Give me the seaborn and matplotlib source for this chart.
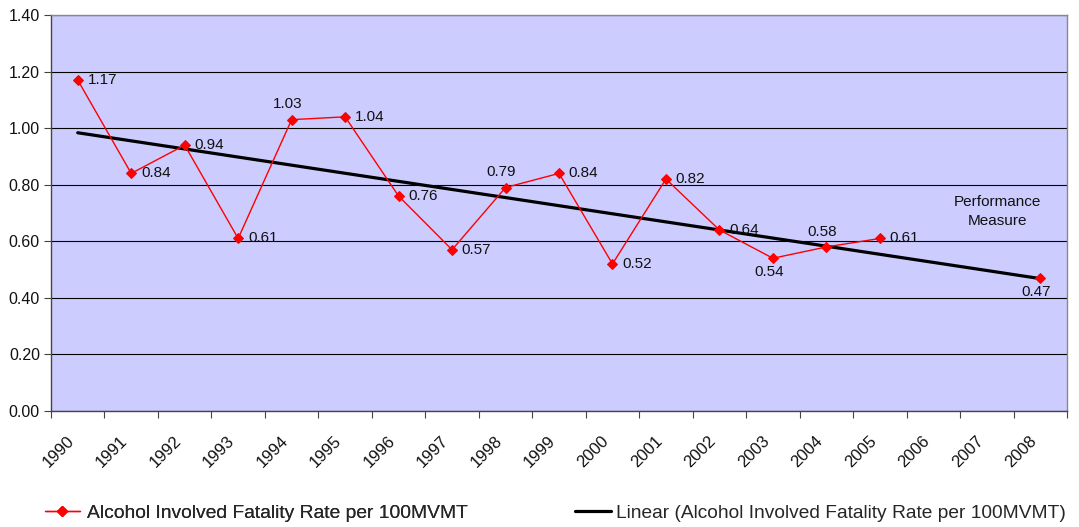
import matplotlib
matplotlib.use("Agg")
import matplotlib.pyplot as plt
from matplotlib.lines import Line2D
from matplotlib.ticker import FixedLocator, MultipleLocator
import numpy as np
import pandas as pd
import seaborn as sns

YEARS = [str(y) for y in range(1990, 2009)]
RATES = [1.17, 0.84, 0.94, 0.61, 1.03, 1.04, 0.76, 0.57, 0.79, 0.84,
         0.52, 0.82, 0.64, 0.54, 0.58, 0.61, None, None, 0.47]
# where each value label sits relative to its point
LABEL_POS = ["r", "r", "r", "r", "a", "r", "r", "r", "a", "r",
             "r", "r", "r", "b", "a", "r", None, None, "b"]

SERIES = "Alcohol Involved Fatality Rate per 100MVMT"
TREND = "Linear (Alcohol Involved Fatality Rate per 100MVMT)"

sns.set_theme(style="white")
plt.rcParams["font.family"] = ["Liberation Sans", "DejaVu Sans"]

df = pd.DataFrame({"Year": YEARS, "Rate": RATES, "pos": LABEL_POS})
df["x"] = np.arange(len(df))
df = df.dropna(subset=["Rate"]).copy()
# break the line where years are missing
df["segment"] = (df["x"].diff().fillna(1) > 1).cumsum()

fig = plt.figure(figsize=(10.79, 5.27), dpi=100)
ax = fig.add_axes([51 / 1079, 116 / 527, 1016 / 1079, 396 / 527])
ax.set_facecolor("#CCCCFF")

sns.lineplot(data=df, x="x", y="Rate", units="segment", estimator=None,
             color="red", linewidth=1.0, marker="D", markersize=5.5,
             markeredgecolor="red", ax=ax, legend=False, zorder=3)

sns.regplot(data=df, x="x", y="Rate", scatter=False, ci=None, truncate=True,
            line_kws={"color": "black", "linewidth": 2.3, "zorder": 2}, ax=ax)

label_style = dict(textcoords="offset points", fontsize=11, color="#111111")
for x, v, pos in zip(df["x"], df["Rate"], df["pos"]):
    txt = f"{v:.2f}"
    if pos == "r":
        ax.annotate(txt, (x, v), xytext=(7, 0), ha="left", va="center",
                    **label_style)
    elif pos == "a":
        ax.annotate(txt, (x, v), xytext=(-3, 6), ha="center", va="bottom",
                    **label_style)
    else:
        ax.annotate(txt, (x, v), xytext=(-3, -5), ha="center", va="top",
                    **label_style)

ax.text(17.2, 0.705, "Performance\nMeasure", ha="center", va="center",
        fontsize=11, color="#111111", linespacing=1.4)

ax.set_xlim(-0.5, len(YEARS) - 0.5)
ax.set_ylim(0, 1.4)
ax.yaxis.set_major_locator(MultipleLocator(0.2))
ax.yaxis.set_major_formatter(plt.FuncFormatter(lambda v, _: f"{v:.2f}"))
ax.grid(axis="y", color="black", linewidth=0.8)
ax.set_axisbelow(True)

# Excel-style rotated labels sit a little left of the category centre
ax.xaxis.set_major_locator(FixedLocator(np.arange(len(YEARS)) - 0.21))
ax.set_xticklabels(YEARS, rotation=45, ha="right", va="top",
                   rotation_mode="anchor")
ax.xaxis.set_minor_locator(FixedLocator(np.arange(len(YEARS) + 1) - 0.5))
ax.tick_params(axis="x", which="major", length=0, pad=16, labelsize=12,
               labelcolor="#111111")
ax.tick_params(axis="x", which="minor", length=5, width=0.8, color="#444444",
               bottom=True)
ax.tick_params(axis="y", length=5, width=0.8, color="#444444", left=True,
               labelsize=11.5, labelcolor="#111111", pad=3)
ax.set_xlabel("")
ax.set_ylabel("")

for side in ["left", "bottom"]:
    ax.spines[side].set_color("#444444")
    ax.spines[side].set_linewidth(1.0)
for side in ["right", "top"]:
    ax.spines[side].set_color("#888888")
    ax.spines[side].set_linewidth(1.0)

h1 = Line2D([], [], color="red", linewidth=1.0, marker="D", markersize=5.5)
h2 = Line2D([], [], color="black", linewidth=2.3)
leg1 = fig.legend([h1], [SERIES], loc="center left",
                  bbox_to_anchor=(45 / 1079, 14 / 527), frameon=False,
                  fontsize=13.9, handlelength=1.8, handletextpad=0.36,
                  borderpad=0, borderaxespad=0)
fig.add_artist(leg1)
fig.legend([h2], [TREND], loc="center left",
           bbox_to_anchor=(575 / 1079, 14 / 527), frameon=False,
           fontsize=13.8, handlelength=1.9, handletextpad=0.26,
           borderpad=0, borderaxespad=0)

fig.savefig("out.png", dpi=100, facecolor="white")
